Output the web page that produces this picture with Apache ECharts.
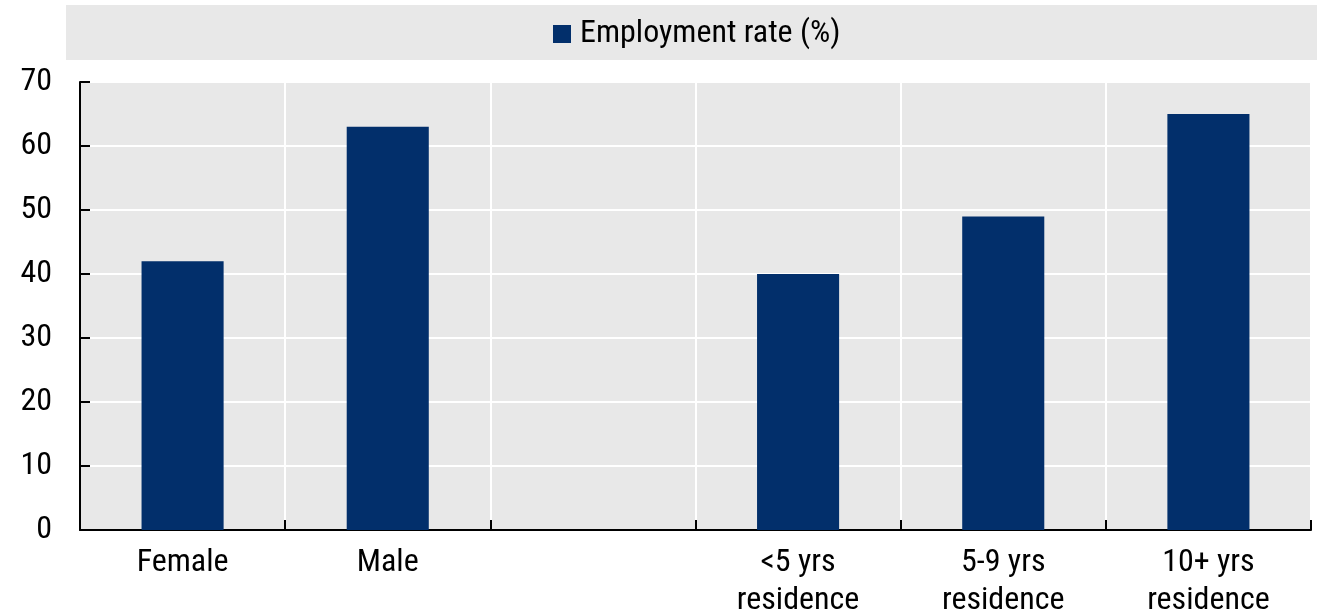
<!DOCTYPE html>
<html style="height: 100%">

<head>
    <meta charset="utf-8">
</head>

<body style="height: 100%; margin: 0">
    <div id="container" style="width: 1320px; height: 615px"></div>

    <script src="https://cdn.jsdelivr.net/npm/echarts@6.0.0/dist/echarts.min.js"></script>

    <script type="text/javascript">
        // 数据
        var categories = ['Female', 'Male', '', '<5 yrs\nresidence', '5-9 yrs\nresidence', '10+ yrs\nresidence'];
        var employmentRate = [42, 63, '-', 40, 49, 65];
        var seriesName = 'Employment rate (%)';

        var fontFamily = "'Roboto Condensed', 'Liberation Sans Narrow', Roboto, sans-serif";
        var barColor = '#022f6b';
        var panelGrey = '#e8e8e8';

        var myChart = echarts.init(document.getElementById('container'));

        var option = {
            animation: false,
            textStyle: { fontFamily: fontFamily },
            // 图例背景条
            graphic: [
                {
                    type: 'rect',
                    z: -1,
                    shape: { x: 66, y: 5, width: 1251, height: 55 },
                    style: { fill: panelGrey }
                }
            ],
            legend: {
                data: [seriesName],
                top: 13,
                left: 548,
                icon: 'rect',
                itemWidth: 18,
                itemHeight: 18,
                textStyle: { fontSize: 32, color: '#000', fontFamily: fontFamily, padding: [0, 0, 0, 4] }
            },
            grid: {
                left: 80,
                right: 9,
                top: 82,
                bottom: 85,
                outerBoundsMode: 'none',
                containLabel: false,
                show: true,
                backgroundColor: panelGrey,
                borderWidth: 0
            },
            xAxis: {
                type: 'category',
                data: categories,
                axisLine: { lineStyle: { color: '#000', width: 2 } },
                axisTick: { show: true, inside: true, length: 10, lineStyle: { color: '#000', width: 2 } },
                splitLine: { show: true, lineStyle: { color: '#fff', width: 2 } },
                axisLabel: {
                    fontSize: 32,
                    color: '#000',
                    margin: 14,
                    lineHeight: 38,
                    fontFamily: fontFamily
                }
            },
            yAxis: {
                type: 'value',
                min: 0,
                max: 70,
                interval: 10,
                axisLine: { show: true, lineStyle: { color: '#000', width: 2 } },
                axisTick: { show: true, inside: true, length: 10, lineStyle: { color: '#000', width: 2 } },
                splitLine: { show: true, lineStyle: { color: '#fff', width: 2 } },
                axisLabel: {
                    fontSize: 32,
                    color: '#000',
                    margin: 28,
                    fontFamily: fontFamily
                }
            },
            series: [
                {
                    name: seriesName,
                    type: 'bar',
                    data: employmentRate,
                    barWidth: '40%',
                    itemStyle: { color: barColor }
                }
            ]
        };

        myChart.setOption(option);
    </script>
</body>

</html>
